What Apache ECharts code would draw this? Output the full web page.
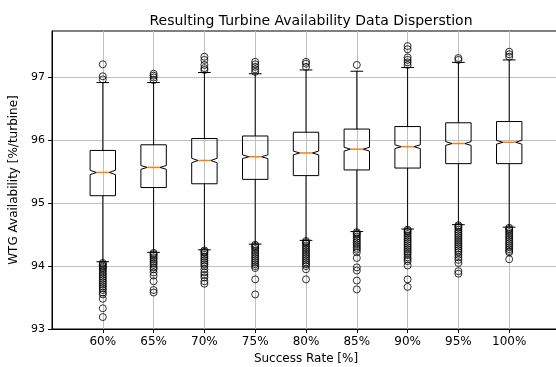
<!DOCTYPE html>
<html>
<head>
<meta charset="utf-8">
<script src="https://cdn.jsdelivr.net/npm/echarts@6/dist/echarts.min.js"></script>
<style>
  html, body { margin: 0; padding: 0; background: #fff; }
  #chart { width: 556px; height: 367px; }
</style>
</head>
<body>
<div id="chart"></div>
<script>
// 每个成功率对应一个箱线
var categories = ['60%', '65%', '70%', '75%', '80%', '85%', '90%', '95%', '100%'];
var whiskerLow = [94.07, 94.22, 94.26, 94.35, 94.41, 94.55, 94.59, 94.66, 94.62];
var q1 = [95.12, 95.25, 95.31, 95.38, 95.44, 95.53, 95.56, 95.63, 95.63];
var ciLow = [95.455, 95.54, 95.645, 95.71, 95.77, 95.83, 95.87, 95.92, 95.94];
var median = [95.49, 95.57, 95.68, 95.74, 95.80, 95.86, 95.90, 95.95, 95.97];
var ciHigh = [95.525, 95.60, 95.715, 95.77, 95.83, 95.89, 95.93, 95.98, 96.00];
var q3 = [95.84, 95.93, 96.03, 96.07, 96.13, 96.18, 96.22, 96.28, 96.30];
var whiskerHigh = [96.92, 96.92, 97.08, 97.06, 97.12, 97.10, 97.16, 97.24, 97.28];
var yTicks = [93, 94, 95, 96, 97];

// 离群点
var outliersHigh = [
    [97.21, 97.02, 96.97],
    [96.96, 97.00, 97.03, 97.06],
    [97.12, 97.15, 97.20, 97.28, 97.33],
    [97.09, 97.13, 97.17, 97.21, 97.25],
    [97.17, 97.22, 97.25],
    [97.20],
    [97.20, 97.24, 97.28, 97.32, 97.45, 97.50],
    [97.28, 97.31],
    [97.33, 97.37, 97.41]
];
var outliersLow = [
    [94.05, 94.03, 94.01, 93.99, 93.97, 93.95, 93.92, 93.89, 93.86, 93.83, 93.80, 93.77, 93.74, 93.71, 93.68, 93.65, 93.62, 93.58, 93.55, 93.48, 93.33, 93.19],
    [94.21, 94.19, 94.17, 94.14, 94.11, 94.08, 94.05, 94.02, 93.98, 93.95, 93.90, 93.85, 93.76, 93.62, 93.58],
    [94.25, 94.23, 94.21, 94.18, 94.15, 94.12, 94.09, 94.06, 94.03, 94.00, 93.95, 93.90, 93.86, 93.82, 93.76, 93.72],
    [94.34, 94.32, 94.30, 94.27, 94.24, 94.21, 94.18, 94.15, 94.12, 94.09, 94.06, 94.03, 94.00, 93.97, 93.79, 93.55],
    [94.40, 94.38, 94.36, 94.33, 94.30, 94.27, 94.24, 94.21, 94.18, 94.15, 94.12, 94.09, 94.06, 94.03, 94.00, 93.95, 93.79],
    [94.54, 94.52, 94.50, 94.47, 94.44, 94.41, 94.38, 94.35, 94.32, 94.29, 94.26, 94.22, 94.13, 93.98, 93.93, 93.77, 93.63],
    [94.58, 94.56, 94.54, 94.51, 94.48, 94.45, 94.42, 94.39, 94.36, 94.33, 94.30, 94.27, 94.24, 94.21, 94.18, 94.14, 94.11, 94.08, 94.01, 93.79, 93.67],
    [94.65, 94.63, 94.61, 94.58, 94.55, 94.52, 94.49, 94.46, 94.43, 94.40, 94.37, 94.34, 94.31, 94.28, 94.25, 94.22, 94.18, 94.14, 94.10, 94.05, 93.92, 93.88],
    [94.61, 94.59, 94.57, 94.54, 94.51, 94.48, 94.45, 94.42, 94.39, 94.36, 94.33, 94.30, 94.27, 94.24, 94.22, 94.11]
];

var boxData = categories.map(function (c, i) {
    return [i + 1, whiskerLow[i], q1[i], ciLow[i], median[i], ciHigh[i], q3[i], whiskerHigh[i]];
});
var flierData = [];
categories.forEach(function (c, i) {
    outliersHigh[i].concat(outliersLow[i]).forEach(function (v) {
        flierData.push([i + 1, v]);
    });
});
var xTicks = categories.map(function (c, i) { return i + 1; });

var chart = echarts.init(document.getElementById('chart'));
var fontFamily = 'DejaVu Sans';

function renderBox(params, api) {
    var x = api.value(0);
    var w = api.size([0.5, 0])[0];
    var capW = w / 2;
    var cx = api.coord([x, api.value(1)])[0];
    function Y(idx) { return api.coord([x, api.value(idx)])[1]; }
    var yLo = Y(1), yQ1 = Y(2), yCiLo = Y(3), yMed = Y(4), yCiHi = Y(5), yQ3 = Y(6), yHi = Y(7);
    var left = cx - w / 2, right = cx + w / 2;
    var nl = cx - w / 4, nr = cx + w / 4;
    var lineStyle = { stroke: '#000', lineWidth: 1, fill: null };
    return {
        type: 'group',
        children: [
            { type: 'polygon', shape: { points: [[left, yQ1], [right, yQ1], [right, yCiLo], [nr, yMed], [right, yCiHi], [right, yQ3], [left, yQ3], [left, yCiHi], [nl, yMed], [left, yCiLo]] }, style: lineStyle },
            { type: 'line', shape: { x1: cx, y1: yQ1, x2: cx, y2: yLo }, style: lineStyle },
            { type: 'line', shape: { x1: cx, y1: yQ3, x2: cx, y2: yHi }, style: lineStyle },
            { type: 'line', shape: { x1: cx - capW / 2, y1: yLo, x2: cx + capW / 2, y2: yLo }, style: lineStyle },
            { type: 'line', shape: { x1: cx - capW / 2, y1: yHi, x2: cx + capW / 2, y2: yHi }, style: lineStyle },
            { type: 'line', shape: { x1: nl, y1: yMed, x2: nr, y2: yMed }, style: { stroke: '#ff7f0e', lineWidth: 1.5 } }
        ]
    };
}

var option = {
    animation: false,
    backgroundColor: '#fff',
    title: {
        text: 'Resulting Turbine Availability Data Disperstion',
        left: 306,
        top: 9,
        textAlign: 'center',
        textStyle: { fontFamily: fontFamily, fontSize: 14, fontWeight: 'normal', color: '#000' }
    },
    grid: {
        left: 52, width: 508, top: 31, height: 298,
        outerBoundsMode: 'none',
        containLabel: false,
        show: true, borderColor: '#000', borderWidth: 1, backgroundColor: 'transparent'
    },
    xAxis: {
        type: 'value',
        min: 0, max: 10, interval: 1,
        name: 'Success Rate [%]',
        nameLocation: 'middle',
        nameGap: 22,
        nameTextStyle: { fontFamily: fontFamily, fontSize: 12, color: '#000' },
        axisLine: { lineStyle: { color: '#000' } },
        axisTick: { show: true, length: 4, lineStyle: { color: '#000' }, customValues: xTicks },
        axisLabel: {
            margin: 7,
            fontFamily: fontFamily, fontSize: 12, color: '#000',
            customValues: xTicks,
            formatter: function (v) { return categories[Math.round(v) - 1] || ''; }
        },
        splitLine: { show: true, lineStyle: { color: '#c0c0c0', width: 1 } }
    },
    yAxis: {
        type: 'value',
        min: 93, max: 97.74, interval: 1,
        name: 'WTG Availability [%/turbine]',
        nameLocation: 'middle',
        nameGap: 31,
        nameRotate: 90,
        nameTextStyle: { fontFamily: fontFamily, fontSize: 12, color: '#000' },
        axisLine: { show: true, lineStyle: { color: '#000' } },
        axisTick: { show: true, length: 4, lineStyle: { color: '#000' }, customValues: yTicks },
        axisLabel: {
            margin: 7,
            fontFamily: fontFamily, fontSize: 11, color: '#000',
            customValues: yTicks,
            formatter: function (v) { return String(Math.round(v)); }
        },
        splitLine: { show: true, lineStyle: { color: '#c0c0c0', width: 1 } }
    },
    series: [
        {
            type: 'custom',
            renderItem: renderBox,
            encode: { x: 0, y: [1, 2, 3, 4, 5, 6, 7] },
            data: boxData,
            z: 3
        },
        {
            type: 'scatter',
            data: flierData,
            symbol: 'circle',
            symbolSize: 7,
            itemStyle: { color: 'rgba(0,0,0,0)', borderColor: '#000', borderWidth: 1 },
            z: 4
        }
    ]
};
chart.setOption(option);
</script>
</body>
</html>
